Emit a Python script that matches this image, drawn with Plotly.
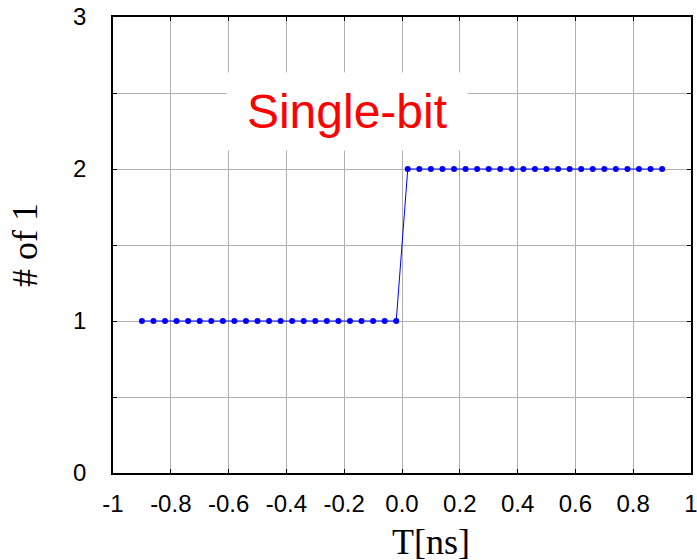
import plotly.graph_objects as go

# Data
t_ns = [-0.90, -0.86, -0.82, -0.78, -0.74, -0.70, -0.66, -0.62, -0.58, -0.54,
        -0.50, -0.46, -0.42, -0.38, -0.34, -0.30, -0.26, -0.22, -0.18, -0.14,
        -0.10, -0.06, -0.02,
        0.02, 0.06, 0.10, 0.14, 0.18, 0.22, 0.26, 0.30, 0.34, 0.38,
        0.42, 0.46, 0.50, 0.54, 0.58, 0.62, 0.66, 0.70, 0.74, 0.78,
        0.82, 0.86, 0.90]
num_ones = [1] * 23 + [2] * 23

x_tick_vals = [-1, -0.8, -0.6, -0.4, -0.2, 0.0, 0.2, 0.4, 0.6, 0.8, 1]
x_tick_text = ["-1", "-0.8", "-0.6", "-0.4", "-0.2", "0.0", "0.2", "0.4", "0.6", "0.8", "1"]
y_tick_vals = [0, 0.5, 1, 1.5, 2, 2.5, 3]
y_tick_text = ["0", "", "1", "", "2", "", "3"]

label_text = "Single-bit"
x_title = "T[ns]"
y_title = "# of 1"

fig = go.Figure()
fig.add_trace(go.Scatter(
    x=t_ns, y=num_ones, mode="lines+markers",
    line=dict(color="#0000ff", width=1),
    marker=dict(color="#0000ff", size=6),
    showlegend=False,
))

fig.add_annotation(
    x=-0.189, y=2.378, xref="x", yref="y",
    text=label_text, showarrow=False,
    font=dict(family="Arial, Liberation Sans", size=48, color="#ff0000"),
    bgcolor="white", width=236, height=73, borderpad=2,
)

serif = "Times New Roman, Liberation Serif"
fig.add_annotation(
    x=0.55, y=0, xref="paper", yref="paper", xanchor="center", yanchor="top",
    yshift=-47, text=x_title, showarrow=False,
    font=dict(family=serif, size=36, color="black"),
)
fig.add_annotation(
    x=0, y=0.5, xref="paper", yref="paper", xanchor="center", yanchor="middle",
    xshift=-88, textangle=-90, text=y_title, showarrow=False,
    font=dict(family=serif, size=36, color="black"),
)

axis_common = dict(
    showline=True, linecolor="black", linewidth=1.5, mirror="ticks",
    ticks="inside", ticklen=4, tickcolor="black", tickwidth=1,
    showgrid=True, gridcolor="#b0b0b0", gridwidth=1,
    zeroline=False, automargin=False, ticklabeloverflow="allow",
    tickfont=dict(family="Arial, Liberation Sans", size=24, color="black"),
)

fig.update_xaxes(
    range=[-1, 1], tickmode="array", tickvals=x_tick_vals, ticktext=x_tick_text,
    ticklabelstandoff=8,
    **axis_common,
)
fig.update_yaxes(
    range=[0, 3], tickmode="array", tickvals=y_tick_vals, ticktext=y_tick_text,
    ticklabelstandoff=20,
    **axis_common,
)

fig.update_layout(
    width=697, height=560,
    margin=dict(l=113, r=6, t=17, b=87),
    paper_bgcolor="white", plot_bgcolor="white",
)

fig.write_html("out.html",
               config={"displayModeBar": False},
               post_script="document.body.style.margin='0';document.body.style.overflow='hidden';")
